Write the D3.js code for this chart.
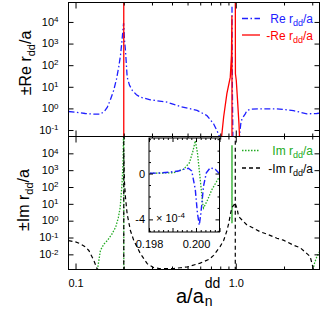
<!DOCTYPE html>
<html><head><meta charset="utf-8">
<script src="https://cdn.jsdelivr.net/npm/d3@7"></script>
<style>body{margin:0;background:#fff} text{font-family:"Liberation Sans",Arial,Helvetica,sans-serif}</style>
</head><body>
<svg id="c" width="323" height="309"></svg>
<script>
// ---------------- data ----------------
const xMajor = [0.1, 1.0];
const xMajorLabels = ["0.1", "1.0"];
const xMinor = [0.2,0.3,0.4,0.5,0.6,0.7,0.8,0.9,2,3];
const topExps = [-1,0,1,2,3,4];
const botExps = [-2,-1,0,1,2,3,4];

// Re r_dd/a (blue, dash-dot), segments separated by null
const reX = [0.0904,0.1,0.115,0.13,0.143,0.152,0.158,0.165,0.173,0.18,0.186,0.191,0.195,0.198,0.1995,0.2005,0.202,0.205,0.21,0.217,0.226,0.24,0.254,0.293,0.372,0.45,0.573,0.66,0.727,0.78,0.81,
  null, 0.9472,0.948,0.952,0.96,
  null, 1.05,1.056,1.075,1.093,1.146,1.174,1.25,1.42,1.806,2.29,2.78,3.2,3.33];
const reY = [0.72,0.66,0.58,0.54,0.54,0.75,1.15,2.5,6.8,22,81,300,1380,5000,9000,6000,1500,480,28,12,6.8,4.3,3.3,2.5,1.95,1.23,0.81,0.47,0.195,0.066,0.03,
  null, 5e4,3000,10,0.03,
  null, 0.03,0.06,0.2,0.33,0.56,0.79,0.93,0.96,0.96,0.79,0.56,0.58,0.6];

// -Re r_dd/a (red, solid)
const nreX = [0.2,0.2,
  null, 0.81,0.84,0.88,0.924,0.94,0.946,0.947,0.9472,
  null, 0.993,0.995,1.007,1.026,1.047,1.058];
const nreY = [0.01,1e6,
  null, 0.03,0.4,4.8,28,300,2e4,30,0.01,
  null, 1e6,40,20,2.3,0.19,0.03];

// Im r_dd/a (green, dotted)
const imX = [0.137,0.143,0.15,0.158,0.168,0.178,0.185,0.19,0.195,0.198,0.2,
  null, 0.2001,0.2001,
  null, 0.9465,0.947,0.9475,
  null, 3.03,3.1,3.2,3.33];
const imY = [0.0012,0.017,0.04,0.066,0.15,0.41,1.5,6.2,150,3000,1e6,
  null, 1e6,0.001,
  null, 0.7,3e4,0.7,
  null, 0.0012,0.003,0.007,0.014];

// -Im r_dd/a (black, dashed)
const nimX = [0.0904,0.1,0.107,0.115,0.121,0.13,0.137,
  null, 0.2,0.2,
  null, 0.2002,0.202,0.205,0.21,0.22,0.231,0.254,0.28,0.308,0.34,0.4,0.45,0.5,0.6,0.68,0.727,0.8,0.84,0.88,0.902,0.93,0.947,0.97,0.99,
  null, 0.993,0.993,
  null, 0.995,1.0,1.02,1.041,1.093,1.174,1.231,1.42,1.565,1.806,1.98,2.29,2.52,2.78,2.91,3.0,3.05];
const nimY = [0.066,0.055,0.043,0.028,0.017,0.0044,0.0012,
  null, 0.001,1e6,
  null, 1e4,200,24,2.5,0.26,0.066,0.011,0.0028,0.0016,0.0014,0.0014,0.0016,0.0018,0.003,0.005,0.0086,0.03,0.066,0.25,0.65,3,6.2,8,12,
  null, 1e6,0.001,
  null, 10,8.5,5,1.8,1.1,0.55,0.45,0.22,0.16,0.09,0.07,0.035,0.025,0.011,0.0075,0.0025,0.0013];

// inset (values in units of 1e-4)
const inMajorX = [0.198,0.199,0.200,0.201];
const inLabelX = [0.198,0.200];
const inLabelXText = ["0.198","0.200"];
const inLabelY = [0,-4];
const inBlueX = [0.19804,0.1985,0.1989,0.19925,0.19947,0.19968,0.19982,0.19997,0.20006,0.20014,0.20021,0.20032,0.20044,0.20061,0.20082,0.20096,0.201];
const inBlueY = [0.02,0.05,0.13,0.22,0.37,0.46,0.22,-1.39,-3.44,-4.5,-3.44,-1.1,0.07,0.51,0.37,0.07,0.0];
const inGreenX = [0.19804,0.1985,0.19904,0.19947,0.19972,0.19987,0.19997,0.20006,0.20018,0.20028,0.20032,0.20047,0.20068,0.20096,0.201];
const inGreenY = [0.02,0.04,0.07,0.37,0.94,1.96,2.85,1.83,-0.5,-2.55,-3.0,-2.4,-1.39,-0.4,-0.3];

// ---------------- drawing ----------------
const svg = d3.select("#c");
const L = 68.5, R = 319.5, T1 = 2.5, M = 136.5, B = 269.5;
const BLUE = "#2020ff", RED = "#ff0000", GREEN = "#22aa22", BLACK = "#000";

const x = d3.scaleLog().domain([0.0904, 3.33]).range([L, R]);
const yTop = d3.scaleLog().domain([Math.pow(10,-1.3), Math.pow(10,4.9)]).range([M, T1]);
const yBot = d3.scaleLog().domain([Math.pow(10,-2.9), Math.pow(10,5)]).range([B, M]);

const defs = svg.append("defs");
defs.append("clipPath").attr("id","cTop").append("rect").attr("x",L).attr("y",T1).attr("width",R-L).attr("height",M-T1);
defs.append("clipPath").attr("id","cBot").append("rect").attr("x",L).attr("y",M).attr("width",R-L).attr("height",B-M);

function pts(xs, ys){ return xs.map((v,i)=> (v===null||ys[i]===null) ? null : [v, ys[i]]); }
function drawSeries(g, xs, ys, ys2, color, dash, w){
  const line = d3.line().defined(d=>d!==null).x(d=>x(d[0])).y(d=>ys2(d[1]));
  g.append("path").datum(pts(xs,ys)).attr("d",line).attr("fill","none")
   .attr("stroke",color).attr("stroke-width",w).attr("stroke-dasharray",dash);
}

const gTop = svg.append("g").attr("clip-path","url(#cTop)");
drawSeries(gTop, reX, reY, yTop, BLUE, "6,2.5,1.5,2.5", 1.3);
drawSeries(gTop, nreX, nreY, yTop, RED, null, 1.3);
const gBot = svg.append("g").attr("clip-path","url(#cBot)");
drawSeries(gBot, imX, imY, yBot, GREEN, "1.5,1.5", 1.3);
drawSeries(gBot, nimX, nimY, yBot, BLACK, "4,3", 1.2);

// axes helper
function styleAxis(g){ g.select(".domain").remove(); g.selectAll("line").attr("stroke","#000"); g.selectAll("text").attr("fill","#000"); }
function xAxes(yTopPix, yBotPix, labels){
  // bottom
  const a1 = svg.append("g").attr("transform",`translate(0,${yBotPix})`)
    .call(d3.axisBottom(x).tickValues(xMajor).tickSizeInner(-6).tickSizeOuter(0).tickPadding(10)
      .tickFormat((d,i)=> labels ? xMajorLabels[i] : ""));
  styleAxis(a1); a1.selectAll("text").attr("font-size",11);
  const a2 = svg.append("g").attr("transform",`translate(0,${yBotPix})`)
    .call(d3.axisBottom(x).tickValues(xMinor).tickSizeInner(-3).tickSizeOuter(0).tickFormat(""));
  styleAxis(a2);
  const a3 = svg.append("g").attr("transform",`translate(0,${yTopPix})`)
    .call(d3.axisTop(x).tickValues(xMajor).tickSizeInner(-6).tickSizeOuter(0).tickFormat(""));
  styleAxis(a3);
  const a4 = svg.append("g").attr("transform",`translate(0,${yTopPix})`)
    .call(d3.axisTop(x).tickValues(xMinor).tickSizeInner(-3).tickSizeOuter(0).tickFormat(""));
  styleAxis(a4);
}
xAxes(T1, M, false);
xAxes(M, B, true);

function yAxes(ys, exps){
  const vals = exps.map(e=>Math.pow(10,e));
  const a = svg.append("g").attr("transform",`translate(${L},0)`)
    .call(d3.axisLeft(ys).tickValues(vals).tickSizeInner(-5).tickSizeOuter(0).tickPadding(10).tickFormat(""));
  styleAxis(a);
  a.selectAll(".tick text").each(function(d,i){
    const t = d3.select(this).attr("font-size",11).attr("dy","0.3em");
    t.text("10");
    t.append("tspan").attr("dy","-0.45em").attr("font-size",8).text(String(exps[i]).replace("-","\u2212").replace("\u2212","-"));
  });
  const b = svg.append("g").attr("transform",`translate(${R},0)`)
    .call(d3.axisRight(ys).tickValues(vals).tickSizeInner(-5).tickSizeOuter(0).tickFormat(""));
  styleAxis(b);
}
yAxes(yTop, topExps);
yAxes(yBot, botExps);

// frames
svg.append("rect").attr("x",L).attr("y",T1).attr("width",R-L).attr("height",B-T1).attr("fill","none").attr("stroke","#000").attr("stroke-width",1);
svg.append("line").attr("x1",L).attr("x2",R).attr("y1",M).attr("y2",M).attr("stroke","#000");

// legends
function legend(yy, color, dash, label, sign){
  svg.append("line").attr("x1",242).attr("x2",260).attr("y1",yy).attr("y2",yy)
    .attr("stroke",color).attr("stroke-width",1.3).attr("stroke-dasharray",dash);
  const t = svg.append("text").attr("x",313).attr("y",yy+4.5).attr("text-anchor","end").attr("font-size",12).attr("fill",color);
  t.append("tspan").text(sign + label + " r");
  t.append("tspan").attr("dy",3).attr("font-size",9).text("dd");
  t.append("tspan").attr("dy",-3).text("/a");
}
legend(18.5, BLUE, "6,2.5,1.5,2.5", "Re", "");
legend(35, RED, null, "Re", "-");
legend(150.5, GREEN, "1.5,1.5", "Im", "");
legend(168, BLACK, "4,3", "Im", "-");

// y titles
function ytitle(cx, cy, lab){
  const t = svg.append("text").attr("transform",`translate(${cx},${cy}) rotate(-90)`).attr("text-anchor","middle").attr("font-size",16).attr("fill","#000");
  t.append("tspan").text("\u00B1" + lab + " r");
  t.append("tspan").attr("dy",4).attr("font-size",11).text("dd");
  t.append("tspan").attr("dy",-4).text("/a");
}
ytitle(31, 63, "Re");
ytitle(29, 200, "Im");

// x title
const xt = svg.append("text").attr("x",176).attr("y",303).attr("font-size",20).attr("fill","#000").text("a/a");
const w = xt.node().getComputedTextLength();
svg.append("text").attr("x",176+w+1).attr("y",288).attr("font-size",14).attr("fill","#000").text("dd");
svg.append("text").attr("x",176+w+1).attr("y",306).attr("font-size",14).attr("fill","#000").text("n");

// ---------------- inset ----------------
const IL = 149, IR = 219.5, IT = 138, IB = 232;
const xi = d3.scaleLinear().domain([0.198, 0.201]).range([IL, IR]);
const yi = d3.scaleLinear().domain([-5.1, 3.1]).range([IB, IT]);
svg.append("rect").attr("x",IL).attr("y",IT).attr("width",IR-IL).attr("height",IB-IT).attr("fill","#fff");
defs.append("clipPath").attr("id","cIn").append("rect").attr("x",IL).attr("y",IT).attr("width",IR-IL).attr("height",IB-IT);
const gIn = svg.append("g").attr("clip-path","url(#cIn)");
const lineIn = d3.line().x(d=>xi(d[0])).y(d=>yi(d[1]));
gIn.append("path").datum(pts(inGreenX,inGreenY)).attr("d",lineIn).attr("fill","none").attr("stroke",GREEN).attr("stroke-width",1.3).attr("stroke-dasharray","1.5,1.5");
gIn.append("path").datum(pts(inBlueX,inBlueY)).attr("d",lineIn).attr("fill","none").attr("stroke",BLUE).attr("stroke-width",1.4).attr("stroke-dasharray","6,2.5,1.5,2.5");

const inMinorX = d3.range(0,16).map(i=>0.198+i*0.0002).filter(v=>!inMajorX.some(m=>Math.abs(m-v)<1e-9));
const inMinorY = [-5,-4,-3,-2,-1,0,1,2,3].filter(v=>v!==0 && v!==-4);
function inAxis(gen, tr, vals, size, fmt, pad){
  const g = svg.append("g").attr("transform",tr).call(gen.tickValues(vals).tickSizeInner(size).tickSizeOuter(0).tickPadding(pad||3).tickFormat(fmt||""));
  styleAxis(g); g.selectAll("text").attr("font-size",11);
  return g;
}
inAxis(d3.axisBottom(xi), `translate(0,${IB})`, inLabelX, -4, (d,i)=>inLabelXText[i], 8);
inAxis(d3.axisBottom(xi), `translate(0,${IB})`, inMajorX.filter(v=>!inLabelX.includes(v)), -4);
inAxis(d3.axisBottom(xi), `translate(0,${IB})`, inMinorX, -2);
inAxis(d3.axisTop(xi), `translate(0,${IT})`, inMajorX, -4);
inAxis(d3.axisTop(xi), `translate(0,${IT})`, inMinorX, -2);
inAxis(d3.axisLeft(yi), `translate(${IL},0)`, inLabelY, -4, d=>String(d), 4);
inAxis(d3.axisLeft(yi), `translate(${IL},0)`, inMinorY, -2);
inAxis(d3.axisRight(yi), `translate(${IR},0)`, inLabelY, -4);
inAxis(d3.axisRight(yi), `translate(${IR},0)`, inMinorY, -2);
svg.append("rect").attr("x",IL).attr("y",IT).attr("width",IR-IL).attr("height",IB-IT).attr("fill","none").attr("stroke","#000");
const mt = svg.append("text").attr("x",156).attr("y",222).attr("font-size",11).attr("fill","#000").text("\u00D7 10");
mt.append("tspan").attr("dy",-4).attr("font-size",8).text("-4");
</script>
</body></html>
